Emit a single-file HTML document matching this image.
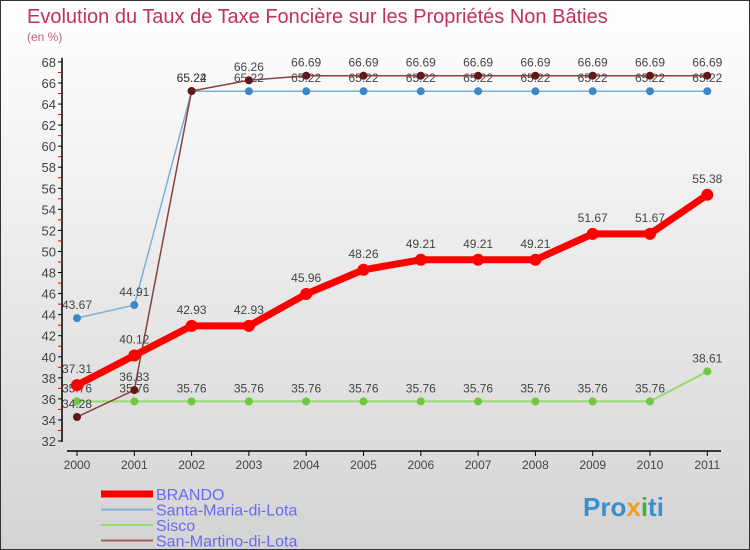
<!DOCTYPE html>
<html><head><meta charset="utf-8"><style>
body{margin:0}
#c{width:750px;height:550px;position:relative;overflow:hidden;font-family:"Liberation Sans",sans-serif;background:linear-gradient(#fff,#d4d4d4);box-sizing:border-box;border:1px solid #333}
</style></head><body>
<div id="c">
<svg id="s" width="750" height="550" xmlns="http://www.w3.org/2000/svg" style="position:absolute;left:0;top:0">
<text x="26" y="22" font-size="20" fill="#c03060">Evolution du Taux de Taxe Foncière sur les Propriétés Non Bâties</text>
<text x="26" y="40" font-size="12" fill="#c06080">(en %)</text>
<g id="axes"></g><g id="series"></g><g id="legend"></g>
<text x="582" y="515" font-size="26" font-weight="bold" fill="#3a8fd0">Pro<tspan fill="#f0a020">x</tspan><tspan fill="#40b040">i</tspan>ti</text>
</svg>
</div>
<script>
const years=["2000","2001","2002","2003","2004","2005","2006","2007","2008","2009","2010","2011"];
const yTicks=[32,34,36,38,40,42,44,46,48,50,52,54,56,58,60,62,64,66,68];
const brando=[37.31,40.12,42.93,42.93,45.96,48.26,49.21,49.21,49.21,51.67,51.67,55.38];
const santaMaria=[43.67,44.91,65.22,65.22,65.22,65.22,65.22,65.22,65.22,65.22,65.22,65.22];
const sisco=[35.76,35.76,35.76,35.76,35.76,35.76,35.76,35.76,35.76,35.76,35.76,38.61];
const sanMartino=[34.28,36.83,65.24,66.26,66.69,66.69,66.69,66.69,66.69,66.69,66.69,66.69];
const NS="http://www.w3.org/2000/svg";
const X=i=>76+i*57.3, Y=v=>440-(v-32)*10.53;
function mk(p,t,a){const e=document.createElementNS(NS,t);for(const k in a)e.setAttribute(k,a[k]);p.appendChild(e);return e;}
const ax=document.getElementById('axes');
let e=mk(ax,'line',{x1:61,y1:Y(68)-4,x2:61,y2:441,stroke:'#000','stroke-width':1.5});

e=mk(ax,'line',{x1:66,y1:450,x2:720,y2:450,stroke:'#000','stroke-width':1.5});

yTicks.forEach(v=>{mk(ax,'line',{x1:57,y1:Y(v),x2:61,y2:Y(v),stroke:'#000'});
 if(v<68)mk(ax,'line',{x1:57,y1:Y(v+1),x2:61,y2:Y(v+1),stroke:'#e00'});
 const t=mk(ax,'text',{x:55,y:Y(v)+5,'font-size':13,fill:'#444','text-anchor':'end'});t.textContent=v;
 });
years.forEach((y,i)=>{mk(ax,'line',{x1:X(i),y1:450,x2:X(i),y2:455,stroke:'#000'});
 const t=mk(ax,'text',{x:X(i),y:468,'font-size':12,fill:'#444','text-anchor':'middle'});t.textContent=y;
 });
const sg=document.getElementById('series');
function draw(name,data,color,w,r,dot,labelDy){
 const g=mk(sg,'g',{});
 mk(g,'polyline',{points:data.map((v,i)=>X(i)+','+Y(v)).join(' '),fill:'none',stroke:color,'stroke-width':w,'stroke-linejoin':'round'});
 data.forEach((v,i)=>{const c=mk(g,'circle',{cx:X(i),cy:Y(v),r:r,fill:dot});
  
  const t=mk(g,'text',{x:X(i),y:Y(v)+labelDy,'font-size':12,fill:'#444','text-anchor':'middle'});t.textContent=v;
  });
}
draw('sisco',sisco,'#9ad870',2,4,'#70c840',-9);
draw('santa-maria',santaMaria,'#7ab0d8',1.5,4,'#3a88c8',-9);
draw('san-martino',sanMartino,'#8a4040',1.5,4,'#601818',-9);
draw('brando',brando,'#f00',7,6,'#f00',-12);
const lg=document.getElementById('legend');
[['BRANDO','#f00',7],['Santa-Maria-di-Lota','#7ab0d8',2],['Sisco','#9ad870',2],['San-Martino-di-Lota','#a06060',2]].forEach((d,i)=>{
 const y=493+i*15.5;
 const g=mk(lg,'g',{});
 mk(g,'line',{x1:100,y1:y,x2:152,y2:y,stroke:d[1],'stroke-width':d[2]});
 const t=mk(g,'text',{x:155,y:y+6,'font-size':16,fill:'#6a6af0'});t.textContent=d[0];
});
</script>
</body></html>
